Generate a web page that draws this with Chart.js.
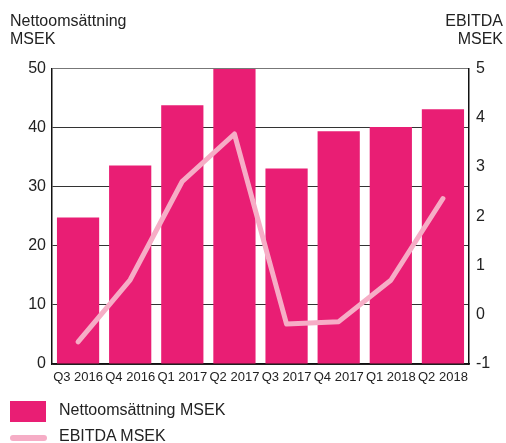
<!DOCTYPE html>
<html>
<head>
<meta charset="utf-8">
<script src="https://cdn.jsdelivr.net/npm/chart.js@4"></script>
<style>
  html, body { margin: 0; padding: 0; background: #fff; }
  #wrap { position: relative; width: 506px; height: 443px; overflow: hidden; font-family: "Liberation Sans", Arial, sans-serif; color: #222; }
  canvas { position: absolute; left: 0; top: 0; }
  .t { position: absolute; font-size: 16px; line-height: 18px; }
  .leg { position: absolute; font-size: 16px; line-height: 16px; left: 59px; }
</style>
</head>
<body>
<div id="wrap">
  <canvas id="c" width="506" height="443"></canvas>
  <div class="t" style="left:10px; top:12px;">Nettoomsättning<br>MSEK</div>
  <div class="t" style="right:3px; top:12px; text-align:right;">EBITDA<br>MSEK</div>
  <div style="position:absolute; left:10px; top:401px; width:36px; height:21px; background:#E91E74;"></div>
  <div class="leg" style="top:402px;">Nettoomsättning MSEK</div>
  <div style="position:absolute; left:10px; top:435px; width:37px; height:6px; border-radius:3px; background:#F6ADC6;"></div>
  <div class="leg" style="top:428px;">EBITDA MSEK</div>
</div>
<script>
const categories = ["Q3 2016", "Q4 2016", "Q1 2017", "Q2 2017", "Q3 2017", "Q4 2017", "Q1 2018", "Q2 2018"];
const nettoomsattning = [24.8, 33.6, 43.8, 49.9, 33.1, 39.4, 40.1, 43.1];
const ebitda = [-0.55, 0.71, 2.71, 3.67, -0.19, -0.14, 0.70, 2.36];
const leftTicks = [0, 10, 20, 30, 40, 50];
const rightTicks = [-1, 0, 1, 2, 3, 4, 5];

const BAR = "#E91E74";
const LINE = "#F6ADC6";
const FONT = "Liberation Sans";

new Chart(document.getElementById("c"), {
  data: {
    labels: categories,
    datasets: [
      {
        type: "line",
        label: "EBITDA MSEK",
        data: ebitda,
        yAxisID: "yR",
        borderColor: LINE,
        backgroundColor: LINE,
        borderWidth: 5,
        pointRadius: 0,
        pointHoverRadius: 0,
        tension: 0,
        borderCapStyle: "round",
        borderJoinStyle: "round",
        order: 0
      },
      {
        type: "bar",
        label: "Nettoomsättning MSEK",
        data: nettoomsattning,
        yAxisID: "yL",
        backgroundColor: BAR,
        borderWidth: 0,
        barPercentage: 0.81,
        categoryPercentage: 1.0,
        order: 1
      }
    ]
  },
  options: {
    responsive: false,
    animation: false,
    layout: { padding: { top: 68.5, left: 0, right: 0, bottom: 0 } },
    plugins: { legend: { display: false }, tooltip: { enabled: false } },
    scales: {
      x: {
        grid: { display: false, drawTicks: false },
        border: { display: true, color: "#111", width: 1.5 },
        ticks: { color: "#222", font: { family: FONT, size: 13 }, padding: 6, maxRotation: 0, autoSkip: false },
        afterFit: (s) => { s.height = 79; }
      },
      yL: {
        position: "left",
        min: 0, max: 50,
        afterBuildTicks: (s) => { s.ticks = leftTicks.map(v => ({ value: v })); },
        grid: {
          drawTicks: false,
          color: (ctx) => (ctx.tick && ctx.tick.value === 50) ? "#777" : "#333",
          lineWidth: 1
        },
        border: { display: true, color: "#111", width: 1.5 },
        ticks: { color: "#222", font: { family: FONT, size: 16 }, padding: 6 },
        afterFit: (s) => { s.width = 52; }
      },
      yR: {
        position: "right",
        min: -1, max: 5,
        afterBuildTicks: (s) => { s.ticks = rightTicks.map(v => ({ value: v })); },
        grid: { display: false, drawTicks: false },
        border: { display: true, color: "#111", width: 1.5 },
        ticks: { color: "#222", font: { family: FONT, size: 16 }, padding: 7 },
        afterFit: (s) => { s.width = 37; }
      }
    }
  }
});
</script>
</body>
</html>
